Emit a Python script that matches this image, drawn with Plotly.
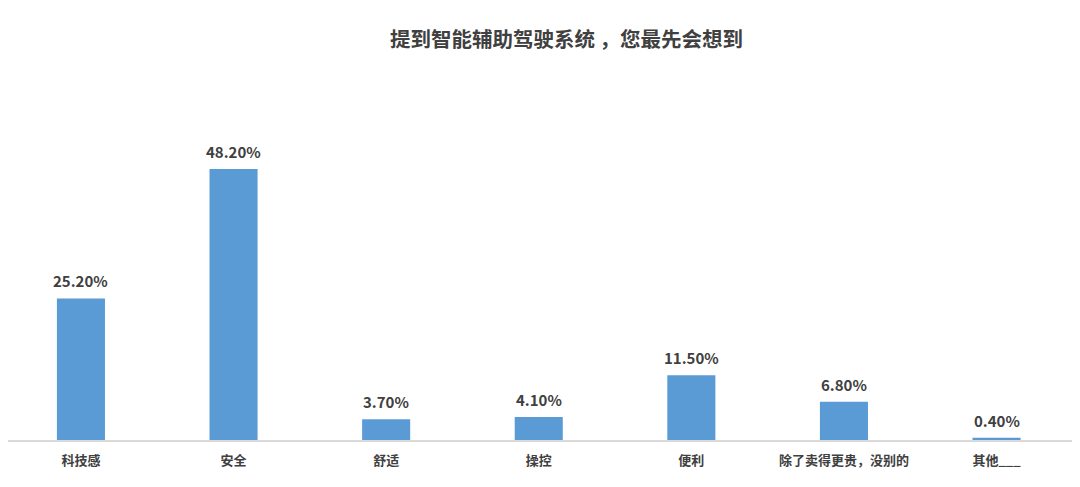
import plotly.graph_objects as go

categories = ["科技感", "安全", "舒适", "操控", "便利", "除了卖得更贵，没别的", "其他___"]
values = [25.2, 48.2, 3.7, 4.1, 11.5, 6.8, 0.4]
labels = ["25.20%", "48.20%", "3.70%", "4.10%", "11.50%", "6.80%", "0.40%"]

fig = go.Figure(go.Bar(
    x=categories, y=values,
    marker=dict(color="#5B9BD5", line=dict(width=0)),
    hoverinfo="skip",
))
for c, v, t in zip(categories, values, labels):
    fig.add_annotation(x=c, y=v, text="<b>%s</b>" % t, showarrow=False,
                       yanchor="bottom", yshift=5,
                       font=dict(family="Noto Sans CJK SC", size=15, color="#404040"))

fig.update_layout(
    width=1072, height=479,
    margin=dict(l=0, r=7, t=92, b=47),
    plot_bgcolor="white", paper_bgcolor="white",
    title=dict(text="<b>提到智能辅助驾驶系统 ，您最先会想到</b>", x=0.521, xanchor="center",
               y=0.933, yanchor="middle",
               font=dict(family="Noto Sans CJK SC", size=20.5, color="#404040")),
    bargap=0.685,
    showlegend=False,
    xaxis=dict(showline=True, linecolor="#D9D9D9", linewidth=1.5, ticks="",
               range=[-0.478, 6.501], ticklabelstandoff=8,
               tickfont=dict(family="Noto Sans CJK SC", size=13, color="#404040")),
    yaxis=dict(range=[0, 60.5], visible=False, showgrid=False, zeroline=False),
)
fig.update_xaxes(ticktext=["<b>%s</b>" % c for c in categories], tickvals=categories)
fig.write_html("out.html")
